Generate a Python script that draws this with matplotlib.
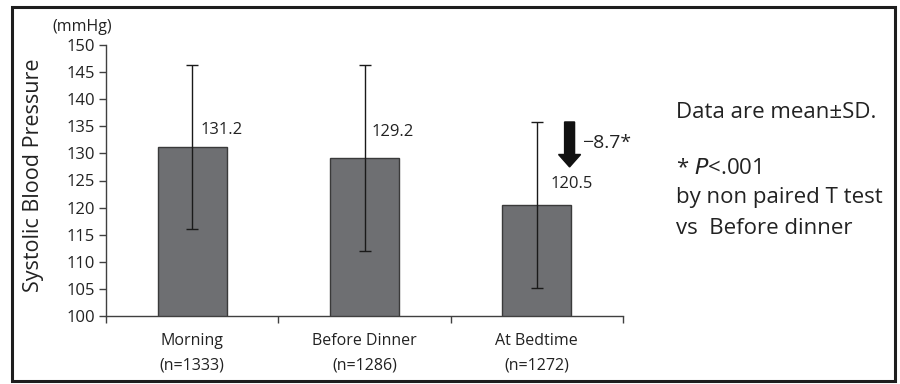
import matplotlib
matplotlib.use("Agg")
import matplotlib.pyplot as plt
from matplotlib.patches import Rectangle, FancyArrow

categories = ["Morning\n(n=1333)", "Before Dinner\n(n=1286)", "At Bedtime\n(n=1272)"]
means = [131.2, 129.2, 120.5]
sds = [15.2, 17.2, 15.3]
yticks = [100, 105, 110, 115, 120, 125, 130, 135, 140, 145, 150]
diff_label = "\u22128.7*"

plt.rcParams['font.family'] = ['Open Sans', 'DejaVu Sans']

fig = plt.figure(figsize=(9, 3.84), dpi=100)
fig.patch.set_facecolor('white')
ax = fig.add_axes([106/900, 1-316/384, (623-106)/900, (316-45)/384])

x = list(range(len(means)))
ax.bar(x, means, width=0.4, bottom=0, color='#6e6f72', edgecolor='#3a3a3a', linewidth=1.0, zorder=2)
ax.errorbar(x, means, yerr=sds, fmt='none', ecolor='#1a1a1a', elinewidth=1.0, capsize=4, capthick=1.0, zorder=3)

ax.set_xlim(-0.5, 2.5)
ax.set_ylim(100, 150)
ax.set_yticks(yticks)
ax.set_yticklabels([str(t) for t in yticks], fontsize=12, color='#222222')
ax.set_xticks(x)
ax.set_xticklabels(categories, fontsize=11.5, color='#222222', linespacing=1.75)
ax.tick_params(axis='x', length=0, pad=12)
ax.tick_params(axis='y', length=5, width=1, color='#404040', direction='out', pad=3)
# category boundary ticks
ax.set_xticks([-0.5, 0.5, 1.5, 2.5], minor=True)
ax.tick_params(axis='x', which='minor', length=5, width=1, color='#404040', direction='out')

for s in ['top', 'right']:
    ax.spines[s].set_visible(False)
for s in ['left', 'bottom']:
    ax.spines[s].set_color('#404040')
    ax.spines[s].set_linewidth(1.0)

# value labels
label_dx = [0.05, 0.04, 0.08]
label_dy = [3.1, 4.8, 3.9]
for i, m in enumerate(means):
    ax.text(i + label_dx[i], m + label_dy[i], f"{m:.1f}", fontsize=12, color='#222222',
            ha='left', va='center', zorder=4)

# arrow for difference
ax.add_patch(FancyArrow(2.19, 135.8, 0, -8.3, width=0.058, head_width=0.128,
                        head_length=2.3, length_includes_head=True,
                        color='#111111', zorder=4))
ax.text(2.265, 131.9, diff_label, fontsize=14, color='#222222', ha='left', va='center')

# unit label
fig.text(82/900, 1-27/384, "(mmHg)", fontsize=11.5, color='#222222', ha='center', va='center')

# y label
fig.text(34/900, 1-175/384, "Systolic Blood Pressure", rotation=90, fontsize=15.5,
         color='#222222', ha='center', va='center')

# right-side notes
fig.text(676/900, 1-113/384, "Data are mean\u00b1SD.", fontsize=16, color='#222222', ha='left', va='center')
fig.text(676/900, 1-168/384, "* $\\it{P}$<.001", fontsize=16, color='#222222', ha='left', va='center')
fig.text(676/900, 1-197/384, "by non paired T test", fontsize=16, color='#222222', ha='left', va='center')
fig.text(676/900, 1-228/384, "vs  Before dinner", fontsize=16, color='#222222', ha='left', va='center')

# outer frame
fig.patches.append(Rectangle((12/900, 3/384), (895-12)/900, (377-3)/384, transform=fig.transFigure,
                             fill=False, edgecolor='#1e1e1e', linewidth=2.2, zorder=10))

fig.savefig("out.png", dpi=100, facecolor='white')
